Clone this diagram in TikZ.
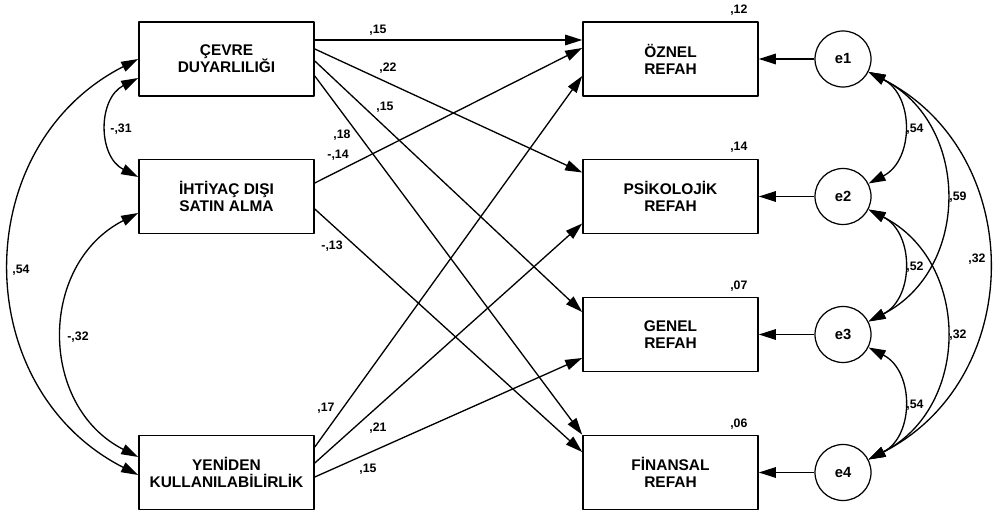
\documentclass[tikz,border=0pt]{standalone}
\usepackage{fontspec}
\setmainfont{Liberation Sans}
\usepackage{tikz}
\usetikzlibrary{calc}
\usetikzlibrary{arrows.meta}

\begin{document}
\begin{tikzpicture}[line join = round, >={Triangle[length=3.4mm,width=2.1mm]},
        var/.style={draw, line width=0.9pt, minimum width=3.5cm, minimum height=1.48cm, align=center, font=\bfseries\fontsize{8.8}{9.7}\selectfont},
        err/.style={draw, circle, line width=0.7pt, minimum size=1.12cm, inner sep=0pt, font=\bfseries\fontsize{8.4}{9.6}\selectfont},
        lbl/.style={font=\bfseries\fontsize{7}{8}\selectfont, inner sep=0pt},
        reg/.style={->, line width=0.75pt},
        cov/.style={<->, line width=0.75pt, looseness=1.18}]
        \useasboundingbox (0,0) rectangle (19.92,10.22);

        \node[var] (cevre) at (4.53,9.04) {ÇEVRE\\DUYARLILIĞI};
        \node[var] (ihtiyac) at (4.53,6.29) {İHTİYAÇ DIŞI\\SATIN ALMA};
        \node[var] (yeniden) at (4.53,0.77) {YENİDEN\\KULLANILABİLİRLİK};
        \node[var] (oznel) at (13.41,9.04) {ÖZNEL\\REFAH};
        \node[var] (psiko) at (13.41,6.29) {PSİKOLOJİK\\REFAH};
        \node[var] (genel) at (13.41,3.53) {GENEL\\REFAH};
        \node[var] (finansal) at (13.41,0.77) {FİNANSAL\\REFAH};
        \node[err] (e1) at (16.86,9.04) {e1};
        \node[err] (e2) at (16.86,6.29) {e2};
        \node[err] (e3) at (16.86,3.53) {e3};
        \node[err] (e4) at (16.86,0.77) {e4};

        \draw[reg] ([yshift=0.38cm]cevre.east) -- ([yshift=0.38cm]oznel.west);
        \draw[reg] ([yshift=0.20cm]cevre.east) -- ([yshift=0.48cm]psiko.west);
        \draw[reg] ([yshift=-0.04cm]cevre.east) -- ([yshift=0.45cm]genel.west);
        \draw[reg] ([yshift=-0.34cm]cevre.east) -- (finansal.north west);
        \draw[reg] ([yshift=0.27cm]ihtiyac.east) -- ([yshift=0.22cm]oznel.west);
        \draw[reg] ([yshift=-0.25cm]ihtiyac.east) -- ([yshift=0.41cm]finansal.west);
        \draw[reg] ([yshift=0.51cm]yeniden.east) -- ([yshift=-0.34cm]oznel.west);
        \draw[reg] ([yshift=0.19cm]yeniden.east) -- ([yshift=-0.54cm]psiko.west);
        \draw[reg] ([yshift=-0.09cm]yeniden.east) -- ([yshift=-0.47cm]genel.west);

        \foreach \i/\b in {1/oznel,2/psiko,3/genel,4/finansal}
        \draw[reg] (e\i) -- (\b);

        \draw[cov] ([yshift=-0.38cm]cevre.west) to[out=207,in=153] ([yshift=0.39cm]ihtiyac.west);
        \draw[cov] (cevre.west) to[out=207,in=153] ([yshift=-0.05cm]yeniden.west);
        \draw[cov] ([yshift=-0.33cm]ihtiyac.west) to[out=207,in=153] ([yshift=0.31cm]yeniden.west);

        \foreach \a/\b in {1/2,1/3,1/4,2/3,2/4,3/4}
        \draw[cov] (e\a) to[out=-27,in=27] (e\b);

        \foreach \b/\r in {oznel/12,psiko/14,genel/07,finansal/06}
        \node[lbl] (r\b) at ([xshift=-0.4cm,yshift=0.22cm]\b.north east) {,\r};

        \node[lbl] (b1) at (7.56,9.62) {,15};
        \node[lbl] (b2) at (7.76,8.86) {,22};
        \node[lbl] (b3) at (7.70,8.08) {,15};
        \node[lbl] (b4) at (6.84,7.52) {,18};
        \node[lbl] (b5) at (6.76,7.12) {-,14};
        \node[lbl] (b6) at (6.64,5.30) {-,13};
        \node[lbl] (b7) at (6.52,2.06) {,17};
        \node[lbl] (b8) at (7.56,1.66) {,21};
        \node[lbl] (b9) at (7.36,0.84) {,15};

        \node[lbl] (c1) at (2.42,7.64) {-,31};
        \node[lbl] (c2) at (0.42,4.82) {,54};
        \node[lbl] (c3) at (1.56,3.48) {-,32};
        \node[lbl] (c4) at (18.30,7.64) {,54};
        \node[lbl] (c5) at (19.16,6.28) {,59};
        \node[lbl] (c6) at (19.54,5.04) {,32};
        \node[lbl] (c7) at (18.30,4.88) {,52};
        \node[lbl] (c8) at (19.16,3.52) {,32};
        \node[lbl] (c9) at (18.30,2.12) {,54};
\end{tikzpicture}
\end{document}
